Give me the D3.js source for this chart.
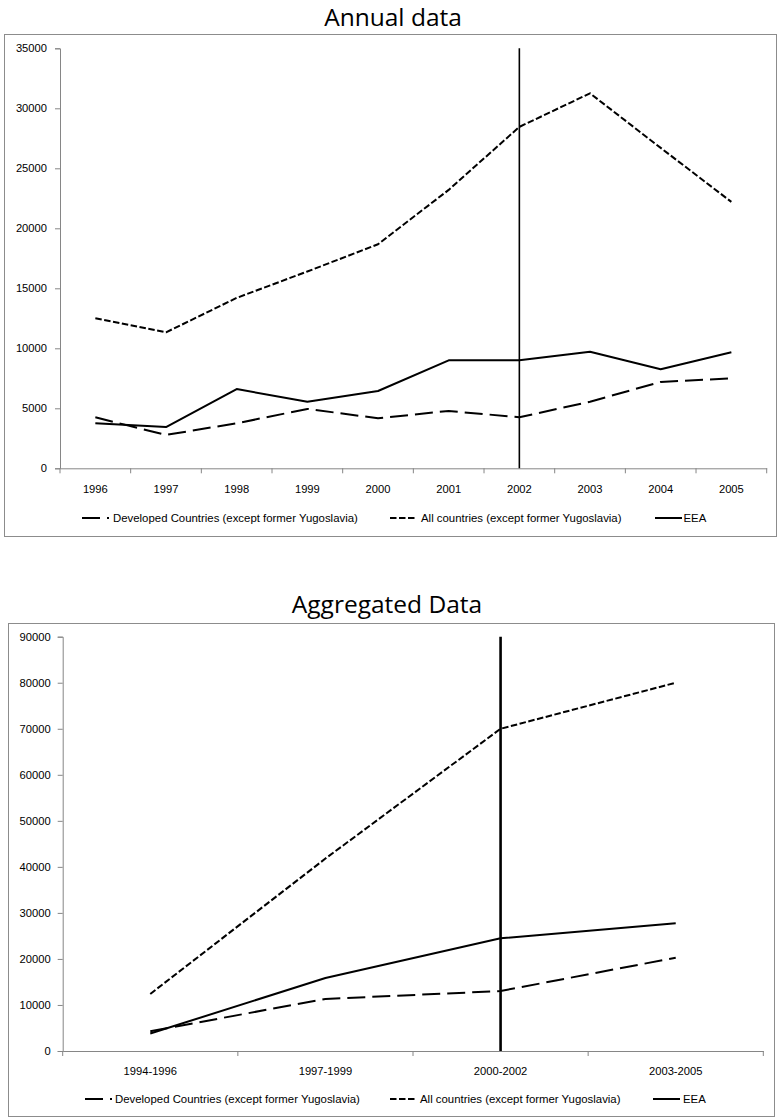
<!DOCTYPE html>
<html>
<head>
<meta charset="utf-8">
<script src="https://cdn.jsdelivr.net/npm/d3@7"></script>
<style>
  html, body { margin: 0; padding: 0; background: #fff; }
  svg { display: block; }
  text { font-family: "Liberation Sans", Arial, sans-serif; fill: #000; }
  .title { font-family: "Open Sans", sans-serif; font-size: 24.5px; }
</style>
</head>
<body>
<svg id="chart" width="777" height="1117"></svg>
<script>
// ---------------- Data ----------------
const annualYears = ["1996","1997","1998","1999","2000","2001","2002","2003","2004","2005"];
const annualDeveloped = [4250, 2780, 3750, 4950, 4170, 4780, 4250, 5550, 7200, 7500];
const annualAll       = [12500, 11330, 14200, 16400, 18670, 23200, 28450, 31250, 26700, 22200];
const annualEEA       = [3750, 3440, 6600, 5550, 6440, 9000, 9000, 9720, 8250, 9670];
const annualTicks = [0, 5000, 10000, 15000, 20000, 25000, 30000, 35000];
const annualMarkerCategory = "2002";
const annualMarkerRange = [0, 35000];

const aggPeriods = ["1994-1996","1997-1999","2000-2002","2003-2005"];
const aggDeveloped = [4300, 11300, 13030, 20270];
const aggAll       = [12400, 41800, 70000, 80000];
const aggEEA       = [3800, 15850, 24480, 27740];
const aggTicks = [0, 10000, 20000, 30000, 40000, 50000, 60000, 70000, 80000, 90000];
const aggMarkerCategory = "2000-2002";
const aggMarkerRange = [0, 90000];

const seriesNames = ["Developed Countries (except former Yugoslavia)", "All countries (except former Yugoslavia)", "EEA"];
const annualTitle = "Annual data";
const aggTitle = "Aggregated Data";

// ---------------- Styles ----------------
const dashes = ["18,7", "6.5,2.5", null];
const axisColor = "#868686";
const boxColor = "#8c8c8c";

const svg = d3.select("#chart");

function drawChart(cfg) {
  const g = svg.append("g");
  // outer box
  g.append("rect")
    .attr("x", cfg.box[0] + 0.5).attr("y", cfg.box[1] + 0.5)
    .attr("width", cfg.box[2] - cfg.box[0] - 1).attr("height", cfg.box[3] - cfg.box[1] - 1)
    .attr("fill", "none").attr("stroke", boxColor).attr("stroke-width", 1);

  // title
  g.append("text").attr("class", "title")
    .attr("x", cfg.titleX).attr("y", cfg.titleY)
    .attr("text-anchor", "middle").text(cfg.title);

  const x = d3.scaleBand().domain(cfg.categories).range(cfg.xRange).paddingInner(0).paddingOuter(0);
  const y = d3.scaleLinear().domain(cfg.yDomain).range(cfg.yRange);

  // y axis
  const yAxis = d3.axisLeft(y).tickValues(cfg.yTicks).tickSize(5).tickPadding(cfg.yPad).tickFormat(d3.format("d"));
  const ya = g.append("g").attr("transform", `translate(${cfg.xRange[0]},0)`).call(yAxis);
  ya.select(".domain").attr("stroke", axisColor);
  ya.selectAll(".tick line").attr("stroke", axisColor);
  ya.selectAll(".tick text").style("font-size", "11.2px").style("font-family", "Liberation Sans, Arial, sans-serif").attr("fill", "#000");

  // x axis: labels centered in band, ticks at band boundaries
  const xAxis = d3.axisBottom(x).tickSize(0).tickPadding(cfg.xPad).tickSizeOuter(0);
  const xa = g.append("g").attr("transform", `translate(0,${cfg.yRange[0]})`).call(xAxis);
  xa.select(".domain").attr("stroke", axisColor);
  xa.selectAll(".tick text").style("font-size", "11.2px").style("font-family", "Liberation Sans, Arial, sans-serif").attr("fill", "#000");
  const bounds = cfg.categories.map(c => x(c)).concat([x.range()[1]]);
  g.append("g").selectAll("line").data(bounds).join("line")
    .attr("x1", d => d).attr("x2", d => d)
    .attr("y1", cfg.yRange[0]).attr("y2", cfg.yRange[0] + 5)
    .attr("stroke", axisColor).attr("stroke-width", 1);

  const cx = c => x(c) + x.bandwidth() / 2;

  // vertical marker line
  g.append("line")
    .attr("x1", cx(cfg.markerCategory)).attr("x2", cx(cfg.markerCategory))
    .attr("y1", y(cfg.markerRange[0])).attr("y2", y(cfg.markerRange[1]))
    .attr("stroke", "#000").attr("stroke-width", cfg.markerWidth);

  // series lines
  const line = d3.line().x((d, i) => cx(cfg.categories[i])).y(d => y(d));
  cfg.series.forEach((vals, si) => {
    g.append("path").datum(vals)
      .attr("d", line)
      .attr("fill", "none").attr("stroke", "#000")
      .attr("stroke-width", 2)
      .attr("stroke-linejoin", "round")
      .attr("stroke-dasharray", dashes[si]);
  });

  // legend
  const lg = g.append("g");
  seriesNames.forEach((name, si) => {
    const sx = cfg.legendSampleX[si];
    lg.append("line")
      .attr("x1", sx).attr("x2", sx + 27)
      .attr("y1", cfg.legendY - 4).attr("y2", cfg.legendY - 4)
      .attr("stroke", "#000").attr("stroke-width", 2)
      .attr("stroke-dasharray", dashes[si]);
    lg.append("text")
      .attr("x", cfg.legendTextX[si]).attr("y", cfg.legendY)
      .style("font-size", "11.4px")
      .text(name);
  });
}

drawChart({
  box: [4, 34, 777, 537],
  title: annualTitle, titleX: 393, titleY: 26,
  categories: annualYears,
  xRange: [60, 766.7],
  yDomain: [0, 35000], yRange: [468.3, 48.3],
  yTicks: annualTicks, yPad: 8, xPad: 17,
  series: [annualDeveloped, annualAll, annualEEA],
  markerCategory: annualMarkerCategory, markerRange: annualMarkerRange, markerWidth: 1.6,
  legendY: 522,
  legendSampleX: [82, 390, 655],
  legendTextX: [113, 421, 683.5]
});

drawChart({
  box: [8, 623, 775, 1117],
  title: aggTitle, titleX: 387, titleY: 613,
  categories: aggPeriods,
  xRange: [62.7, 763.3],
  yDomain: [0, 90000], yRange: [1051, 636.7],
  yTicks: aggTicks, yPad: 7, xPad: 16,
  series: [aggDeveloped, aggAll, aggEEA],
  markerCategory: aggMarkerCategory, markerRange: aggMarkerRange, markerWidth: 2.6,
  legendY: 1103,
  legendSampleX: [85, 390, 653],
  legendTextX: [115, 420, 683]
});
</script>
</body>
</html>
